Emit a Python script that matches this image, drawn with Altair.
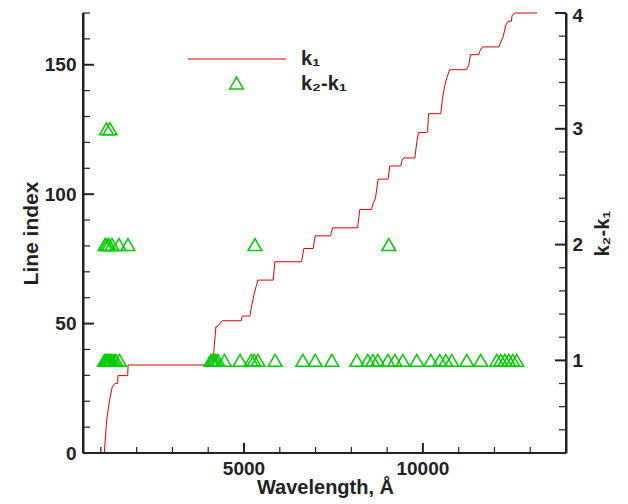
import altair as alt
import pandas as pd

# ---- k1 curve: wavelength (Å) and line index ----
k1_wavelength = [1095, 1162, 1235, 1318, 1394, 1469, 1478, 1749, 1760, 4140, 4159, 4215, 4252,
                 4391, 4922, 4950, 5165, 5212, 5285, 5388, 5816, 5863, 6609, 6673, 6933,
                 6989, 7416, 7475, 8173, 8237, 8564, 8609, 8673, 8748, 9028, 9075, 9383,
                 9419, 9466, 9774, 9838, 9877, 10098, 10130, 10160, 10500, 10547, 10612,
                 10676, 10751, 11218, 11282, 11330, 11561, 11589, 11665, 12128, 12176,
                 12240, 12316, 12380, 12475, 12492, 12587, 13190]
k1_index = [0, 12.7, 19.8, 25.6, 26.9, 26.9, 29.9, 29.9, 34.0, 34.0, 39.8, 48.8, 48.8,
            51.1, 51.1, 52.9, 52.9, 56.8, 61.6, 66.8, 66.8, 73.9, 73.9, 79.0, 79.0,
            83.9, 83.9, 87.0, 87.0, 94.1, 94.1, 96.4, 98.3, 105.8, 105.8, 110.9, 110.9,
            113.1, 114.0, 114.0, 120.9, 123.8, 123.8, 124.1, 131.1, 131.1, 136.9, 142.0,
            145.3, 148.1, 148.1, 149.8, 153.9, 153.9, 155.2, 156.9, 156.9, 158.8,
            160.7, 165.3, 166.8, 166.8, 169.1, 170.0, 170.0]

# ---- k2-k1 triangles: wavelengths at each difference level ----
dk1_wavelength = [1100, 1142, 1184, 1226, 1268, 1310, 1366, 1422, 1520,
                  4075, 4117, 4159, 4215, 4271, 4453, 4890, 5200, 5280, 5390, 5870,
                  6645, 6990, 7455, 8154, 8461, 8601, 8740, 9020, 9215, 9439, 9830,
                  10221, 10472, 10640, 10807, 11226, 11617, 12064, 12176, 12288,
                  12399, 12511, 12623]
dk2_wavelength = [1115, 1170, 1226, 1310, 1506, 1757, 5305, 9047]
dk3_wavelength = [1156, 1254]

legend_labels = ["k\u2081", "k\u2082-k\u2081"]
x_title = "Wavelength, Å"

x_range = [500, 14000]
left_range = [0, 170]
right_range = [0.2, 4]
x_major = [5000, 10000]
x_major_labels = ["5000", "10000"]
x_minor = [1000, 2000, 3000, 4000, 6000, 7000, 8000, 9000, 11000, 12000, 13000]
left_major = [0, 50, 100, 150]
left_minor = [10, 20, 30, 40, 60, 70, 80, 90, 110, 120, 130, 140, 160, 170]
right_major = [1, 2, 3, 4]
right_minor = [0.2, 0.4, 0.6, 0.8, 1.2, 1.4, 1.6, 1.8, 2.2, 2.4, 2.6, 2.8, 3.2, 3.4, 3.6, 3.8]

line_df = pd.DataFrame({"wl": k1_wavelength, "idx": k1_index, "seq": range(len(k1_index))})
tri_df = pd.DataFrame({
    "wl": dk1_wavelength + dk2_wavelength + dk3_wavelength,
    "dk": [1] * len(dk1_wavelength) + [2] * len(dk2_wavelength) + [3] * len(dk3_wavelength),
})

W, H = 483, 440
FONT = "Liberation Sans"
INK = "#222222"
RED = "#e00000"
GREEN = "#00cc00"


def xs():
    return alt.Scale(domain=x_range, nice=False, zero=False)


def yls():
    return alt.Scale(domain=left_range, nice=False, zero=False)


def yrs():
    return alt.Scale(domain=right_range, nice=False, zero=False)


lab = dict(labelFont=FONT, labelFontSize=19, labelFontWeight="bold", labelColor=INK,
           titleFont=FONT, titleFontWeight="bold", titleColor=INK,
           domainColor=INK, domainWidth=2, grid=False, ticks=False)

line = alt.Chart(line_df).mark_line(color=RED, strokeWidth=1).encode(
    x=alt.X("wl:Q", scale=xs(), axis=None),
    y=alt.Y("idx:Q", scale=yls(), axis=alt.Axis(orient="left", values=left_major, format="d",
                                                labelPadding=7, titlePadding=3, titleFontSize=21,
                                                title="Line index", **lab)),
    order="seq:Q",
)

tri = alt.Chart(tri_df).mark_point(shape="triangle-up", filled=False, size=190, color=GREEN,
                                   strokeWidth=1.5, opacity=1).encode(
    x=alt.X("wl:Q", scale=xs(), axis=None),
    y=alt.Y("dk:Q", scale=yrs(), axis=alt.Axis(
        orient="right", values=right_major, format="d",
        labelPadding=6, titlePadding=10, titleAngle=270, titleBaseline="top", titleFontSize=20,
        labelOffset={"condition": {"test": "datum.value === 4", "value": 2}, "value": 0},
        title="k\u2082-k\u2081", **lab)),
)


def tick_layer(values, field_scale, channel, length, width):
    df = pd.DataFrame({"v": values})
    base = alt.Chart(df).mark_rule(color=INK, strokeWidth=width)
    if channel == "x":
        return base.encode(x=alt.X("v:Q", scale=field_scale, axis=None),
                           y=alt.value(H), y2=alt.value(H - length))
    if channel == "yl":
        return base.encode(y=alt.Y("v:Q", scale=field_scale, axis=None),
                           x=alt.value(0), x2=alt.value(length))
    return base.encode(y=alt.Y("v:Q", scale=field_scale, axis=None),
                       x=alt.value(W), x2=alt.value(W - length))


ticks = [
    tick_layer(x_major, xs(), "x", 10, 2),
    tick_layer(x_minor, xs(), "x", 6, 1.2),
    tick_layer(left_major, yls(), "yl", 11, 2),
    tick_layer(left_minor, yls(), "yl", 7, 1.2),
    tick_layer(right_major, yrs(), "yr", 11, 2),
    tick_layer(right_minor, yrs(), "yr", 7, 1.2),
]

# wavelength tick labels and axis title drawn as text through the x scale
xlab_df = pd.DataFrame({"v": x_major, "t": x_major_labels})
x_labels = alt.Chart(xlab_df).mark_text(
    align="center", baseline="top", font=FONT, fontSize=19, fontWeight="bold", color=INK
).encode(x=alt.X("v:Q", scale=xs(), axis=None), y=alt.value(H + 7), text="t:N")
xtitle_df = pd.DataFrame({"t": [x_title]})
x_title_mark = alt.Chart(xtitle_df).mark_text(
    align="center", baseline="alphabetic", font=FONT, fontSize=20, fontWeight="bold", color=INK
).encode(x=alt.value(W / 2 + 1), y=alt.value(H + 41), text="t:N")

# frame lines along the wavelength range ends / index range (left, bottom, right)
frame_df = pd.DataFrame({"x0": [x_range[0]], "x1": [x_range[1]],
                         "y0": [left_range[0]], "y1": [left_range[1]]})
frame_left = alt.Chart(frame_df).mark_rule(color=INK, strokeWidth=2).encode(
    x=alt.X("x0:Q", scale=xs(), axis=None), y=alt.Y("y0:Q", scale=yls(), axis=None), y2="y1:Q")
frame_right = alt.Chart(frame_df).mark_rule(color=INK, strokeWidth=2).encode(
    x=alt.X("x1:Q", scale=xs(), axis=None), y=alt.Y("y0:Q", scale=yls(), axis=None), y2="y1:Q")
frame_bottom = alt.Chart(frame_df).mark_rule(color=INK, strokeWidth=2).encode(
    x=alt.X("x0:Q", scale=xs(), axis=None), x2="x1:Q", y=alt.Y("y0:Q", scale=yls(), axis=None))

leg_df1 = pd.DataFrame({"t": [legend_labels[0]]})
leg_df2 = pd.DataFrame({"t": [legend_labels[1]]})

leg_line = alt.Chart(leg_df1).mark_rule(color=RED, strokeWidth=1).encode(
    x=alt.value(105), x2=alt.value(203), y=alt.value(46))
leg_tri = alt.Chart(leg_df2).mark_point(shape="triangle-up", filled=False, size=190, color=GREEN,
                                        strokeWidth=1.5, opacity=1).encode(
    x=alt.value(153.5), y=alt.value(70))
txt = dict(align="left", baseline="alphabetic", font=FONT, fontSize=20, fontWeight="bold", color=INK)
leg_t1 = alt.Chart(leg_df1).mark_text(**txt).encode(x=alt.value(218), y=alt.value(52), text="t:N")
leg_t2 = alt.Chart(leg_df2).mark_text(**txt).encode(x=alt.value(218), y=alt.value(77), text="t:N")

chart = alt.layer(
    line, tri, *ticks, frame_left, frame_right, frame_bottom, x_labels, x_title_mark,
    leg_line, leg_tri, leg_t1, leg_t2,
).resolve_scale(
    y="independent"
).properties(
    width=W, height=H,
    autosize=alt.AutoSizeParams(type="none"),
    padding={"left": 75, "top": 5, "right": 54, "bottom": 49},
).configure_view(strokeOpacity=0)

chart.save("out.html", embed_options={"renderer": "svg", "actions": False})
